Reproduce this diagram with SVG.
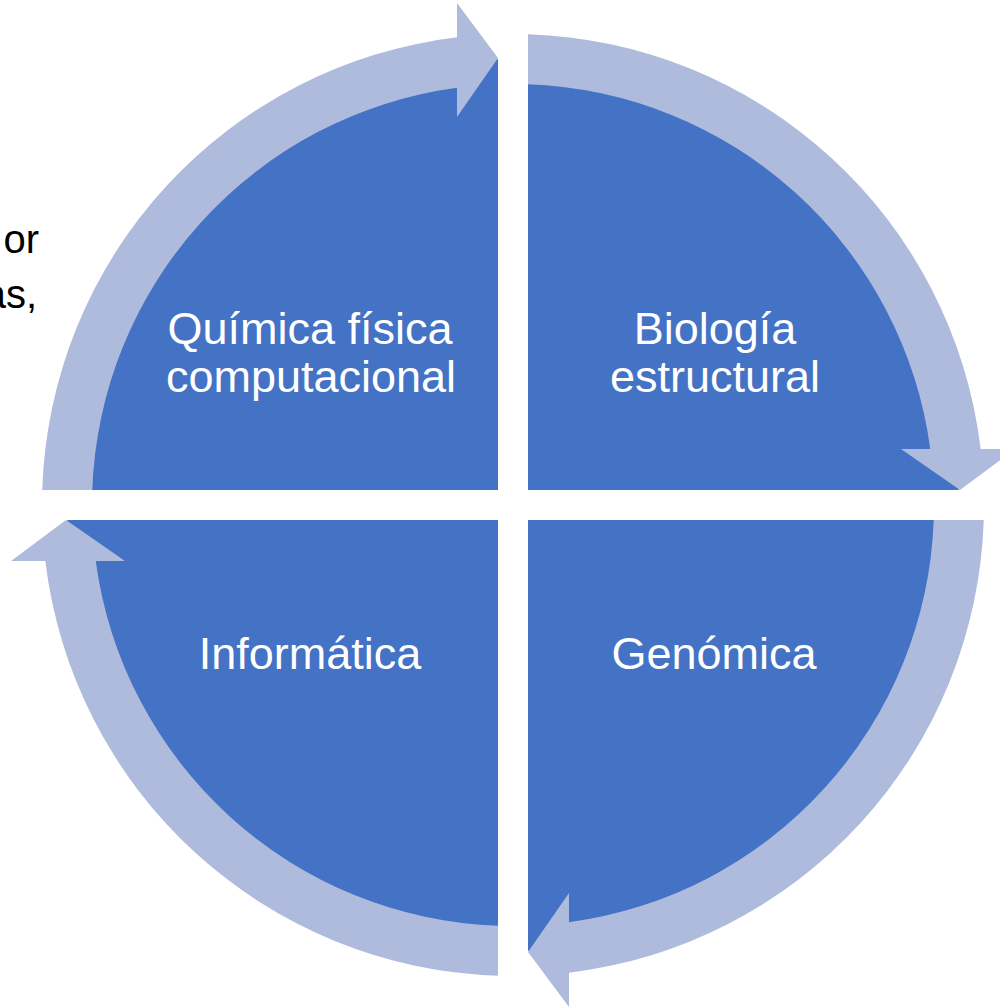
<svg xmlns="http://www.w3.org/2000/svg" xmlns:xlink="http://www.w3.org/1999/xlink" width="1000" height="1008" viewBox="0 0 1000 1008">
  <style>
    .pie { fill: #4472C4; }
    .ring { fill: #AFBBDD; }
    .label { fill: #FFFFFF; font-family: "Liberation Sans", Arial, sans-serif; font-size: 45px; text-anchor: middle; }
    .bg { fill: #000000; font-family: "Liberation Sans", Arial, sans-serif; font-size: 40px; text-anchor: end; }
  </style>
  <defs>
    <path id="quarter" d="M -15,-15 L -445.75,-15 A 446 446 0 0 1 -15,-445.75 Z"/>
    <path id="arcArrow" d="M -470.76,-15 A 471 471 0 0 1 -56,-467.66 L -56,-502 L -15,-447 L -56,-388 L -56,-417.26 A 421 421 0 0 0 -420.73,-15 Z"/>
  </defs>
  <rect width="1000" height="1008" fill="#FFFFFF"/>
  <g id="background-text">
    <text class="bg" x="39" y="253">or</text>
    <text class="bg" x="37" y="308">as,</text>
  </g>
  <g id="node-quimica">
    <use xlink:href="#quarter" href="#quarter" class="pie" transform="translate(513,505)"/>
    <text class="label" x="310" y="344">Química física</text>
    <text class="label" x="311" y="392">computacional</text>
  </g>
  <g id="node-biologia">
    <use xlink:href="#quarter" href="#quarter" class="pie" transform="translate(513,505) rotate(90)"/>
    <text class="label" x="715" y="344">Biología</text>
    <text class="label" x="715" y="392">estructural</text>
  </g>
  <g id="node-genomica">
    <use xlink:href="#quarter" href="#quarter" class="pie" transform="translate(513,505) rotate(180)"/>
    <text class="label" x="714" y="669">Genómica</text>
  </g>
  <g id="node-informatica">
    <use xlink:href="#quarter" href="#quarter" class="pie" transform="translate(513,505) rotate(270)"/>
    <text class="label" x="310" y="669">Informática</text>
  </g>
  <g id="connectors">
    <use xlink:href="#arcArrow" href="#arcArrow" class="ring" transform="translate(513,505)"/>
    <use xlink:href="#arcArrow" href="#arcArrow" class="ring" transform="translate(513,505) rotate(90)"/>
    <use xlink:href="#arcArrow" href="#arcArrow" class="ring" transform="translate(513,505) rotate(180)"/>
    <use xlink:href="#arcArrow" href="#arcArrow" class="ring" transform="translate(513,505) rotate(270)"/>
  </g>
</svg>
